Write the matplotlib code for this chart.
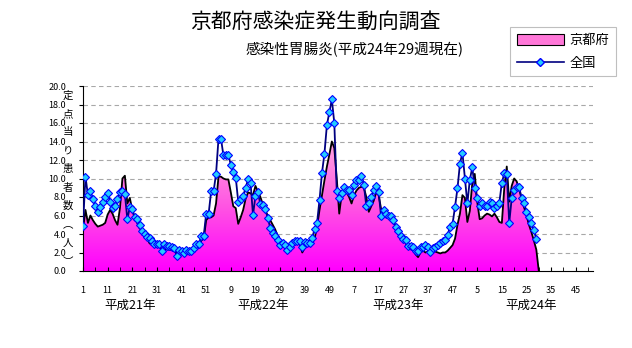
import numpy as np
import matplotlib
matplotlib.use('Agg')
import matplotlib.pyplot as plt
from matplotlib.colors import LinearSegmentedColormap
from matplotlib.patches import Patch
from matplotlib.lines import Line2D

plt.rcParams['font.family'] = ['Noto Sans CJK JP', 'DejaVu Sans']

# 定点当り患者数 (weekly), 平成21年 - 平成24年29週
kyoto_h21 = [4.5, 6.6, 5.2, 6.0, 5.5, 5.1, 4.8, 4.9, 5.0, 5.2, 6.1, 6.6, 6.2, 5.5, 5.0, 6.8,
             10.0, 10.3, 7.3, 7.9, 6.6, 5.7, 5.2, 4.6, 4.4, 3.9, 3.5, 3.0, 2.8, 2.6, 2.6, 2.7,
             2.3, 2.2, 2.4, 2.3, 2.3, 2.2, 2.0, 2.1, 2.0, 1.9, 2.0, 2.0, 2.1, 2.2, 2.3, 2.6,
             3.3, 3.5, 5.5, 5.8]
kyoto_h22 = [5.8, 6.0, 7.3, 10.2, 10.2, 10.0, 9.9, 9.9, 8.5, 7.0, 6.8, 5.1, 5.8, 6.6, 7.8, 8.5,
             8.4, 8.2, 9.2, 8.6, 8.0, 7.2, 6.5, 6.0, 5.5, 5.0, 4.5, 3.8, 3.4, 3.0, 2.8, 2.7,
             2.7, 2.9, 3.0, 3.0, 2.9, 2.0, 2.5, 2.7, 2.9, 3.0, 3.5, 4.8, 6.6, 8.2, 9.8, 11.3,
             12.6, 14.0, 13.3, 10.0]
kyoto_h23 = [6.2, 8.3, 8.6, 8.5, 8.0, 7.3, 8.2, 8.7, 9.0, 9.1, 9.0, 8.0, 6.4, 7.0, 7.6, 8.5,
             8.2, 6.7, 6.5, 6.3, 6.2, 5.6, 5.2, 4.8, 4.3, 3.9, 3.4, 3.0, 2.5, 2.4, 2.2, 1.8,
             1.5, 2.0, 2.2, 2.0, 2.1, 2.2, 2.1, 2.1, 2.0, 1.9, 2.0, 2.0, 2.2, 2.5, 2.8, 3.5,
             5.0, 6.2, 8.2, 7.9]
kyoto_h24 = [5.3, 6.5, 9.5, 10.5, 7.5, 5.6, 5.7, 6.0, 6.2, 6.1, 5.9, 6.2, 5.8, 5.3, 5.2, 9.0,
             11.3, 7.5, 9.2, 10.0, 9.7, 8.9, 7.8, 6.9, 6.0, 5.0, 4.2, 3.3, 2.3]

zenkoku_h21 = [4.9, 10.2, 8.2, 8.6, 7.75, 7.0, 6.4, 6.95, 7.5, 8.0, 8.4, 7.5, 6.8, 7.0, 7.75, 8.5,
               8.65, 8.3, 5.6, 6.9, 6.7, 5.8, 5.6, 5.0, 4.35, 4.0, 3.7, 3.6, 3.25, 2.9, 2.95, 2.9,
               2.2, 2.95, 2.75, 2.7, 2.55, 2.45, 1.65, 2.3, 2.2, 2.0, 2.3, 2.2, 2.2, 2.45, 2.9, 2.9,
               3.8, 3.8, 6.2, 6.2]
zenkoku_h22 = [8.6, 8.6, 10.5, 14.3, 14.3, 12.5, 12.5, 12.5, 11.5, 10.7, 10.1, 7.5, 7.8, 8.1, 9.0, 9.9,
               9.55, 6.05, 8.1, 8.5, 7.2, 7.1, 6.7, 5.7, 4.7, 4.15, 3.8, 3.4, 2.8, 3.0, 2.8, 2.25,
               2.6, 3.0, 3.2, 3.2, 3.2, 2.6, 3.1, 3.0, 3.0, 3.6, 4.5, 5.2, 7.7, 10.6, 12.7, 15.8,
               17.2, 18.55, 16.0, 8.6]
zenkoku_h23 = [7.9, 8.4, 9.1, 8.8, 8.8, 8.2, 9.3, 9.85, 9.85, 10.3, 9.3, 7.0, 7.4, 8.0, 8.75, 9.2,
               8.5, 5.9, 6.6, 6.2, 6.0, 6.0, 5.5, 4.8, 4.35, 3.8, 3.5, 3.3, 2.7, 2.7, 2.6, 2.2,
               2.2, 2.55, 2.55, 2.8, 2.6, 2.1, 2.5, 2.6, 2.8, 3.0, 3.2, 3.35, 3.9, 4.8, 5.1, 6.95,
               8.95, 11.6, 12.8, 10.0]
zenkoku_h24 = [7.3, 9.85, 11.2, 9.0, 7.9, 7.0, 7.4, 7.0, 7.0, 7.5, 7.3, 6.85, 7.0, 7.4, 9.55, 10.55,
               10.5, 5.2, 7.85, 8.75, 9.1, 9.1, 7.9, 7.4, 6.4, 5.8, 5.15, 4.4, 3.45]

tick_labels = ['1', '11', '21', '31', '41', '51', '9', '19', '29', '39', '49',
               '7', '17', '27', '37', '47', '5', '15', '25', '35', '45']
year_labels = ['平成21年', '平成22年', '平成23年', '平成24年']
year_pos = [20, 74, 129, 183]
n_slots = 208

kyoto = np.array(kyoto_h21 + kyoto_h22 + kyoto_h23 + kyoto_h24)
zenkoku = np.array(zenkoku_h21 + zenkoku_h22 + zenkoku_h23 + zenkoku_h24)
x = np.arange(1, len(kyoto) + 1)

fig = plt.figure(figsize=(6.32, 3.48), dpi=100)
ax = fig.add_axes([83 / 632, 1 - 271 / 348, 510 / 632, 185 / 348])
ax.set_xlim(1, n_slots)
ax.set_ylim(0, 20)

for v in np.arange(2, 21, 2):
    ax.axhline(v, color='#a8a8a8', lw=0.8, ls=(0, (4, 3)), zorder=0)

# area for Kyoto, gradient fill clipped to the polygon
px = np.concatenate([[x[0]], x, [x[-1] + 1]])
py = np.concatenate([[0], kyoto, [0]])
poly = ax.fill(px, py, facecolor='none', edgecolor='none', zorder=1)[0]
cmap = LinearSegmentedColormap.from_list('kyoto', ['#ff00ff', '#ff55e2', '#ffa4e2'])
grad = np.linspace(0, 1, 256).reshape(-1, 1)
im = ax.imshow(grad, extent=[1, n_slots, 0, kyoto.max()], origin='lower',
               cmap=cmap, aspect='auto', zorder=1)
im.set_clip_path(poly)
ax.plot(px[1:], py[1:], color='black', lw=1.3, zorder=2)

ax.plot(x, zenkoku, color='#000080', lw=1.3, marker='D', markersize=4.2,
        markerfacecolor='#22ccff', markeredgecolor='#0000ff', markeredgewidth=0.8, zorder=3)
ax.set_xlim(1, n_slots)
ax.set_ylim(0, 20)

for s in ['top', 'right']:
    ax.spines[s].set_visible(False)

ax.set_yticks(np.arange(0, 21, 2))
ax.set_yticklabels([f'{v:.1f}' for v in np.arange(0, 21, 2)], fontsize=6.5)
ax.tick_params(axis='y', direction='out', length=3, pad=9)
ax.set_xticks(np.arange(1, 202, 10))
ax.set_xticklabels(tick_labels, fontsize=6.5)
ax.set_xticks(np.arange(1, n_slots + 1, 5), minor=True)
ax.tick_params(axis='x', which='both', direction='in', length=3, pad=11)

for lab, pos in zip(year_labels, year_pos):
    ax.text(pos, -0.185, lab, transform=ax.get_xaxis_transform(), ha='center', va='center',
            fontsize=9)

# vertical axis title, one character between each pair of tick labels
ylab = ['定', '点', '当', 'り', '患', '者', '数', '︵', '人', '︶']
for i, ch in enumerate(ylab):
    ax.text(-0.03, 19 - 2 * i, ch, transform=ax.get_yaxis_transform(),
            ha='center', va='center', fontsize=7.5)

fig.text(315 / 632, 1 - 22 / 348, '京都府感染症発生動向調査', ha='center', va='center',
         fontsize=15)
fig.text(355 / 632, 1 - 50 / 348, '感染性胃腸炎(平成24年29週現在)', ha='center', va='center',
         fontsize=10.5)

handles = [Patch(facecolor='#ff77d8', edgecolor='black', lw=0.8),
           Line2D([], [], color='#000080', lw=1.2, marker='D', markersize=4,
                  markerfacecolor='#22ccff', markeredgecolor='#0000ff')]
leg = fig.legend(handles, ['京都府', '全国'], loc='upper left',
                 bbox_to_anchor=(510 / 632, 1 - 27 / 348), fontsize=9.5, frameon=True,
                 fancybox=False, edgecolor='#b0b0b0', borderpad=0.5, handlelength=3.6,
                 handleheight=0.9, labelspacing=0.75, handletextpad=0.4, borderaxespad=0)
leg.get_frame().set_linewidth(0.8)

fig.savefig('out.png', dpi=100)
